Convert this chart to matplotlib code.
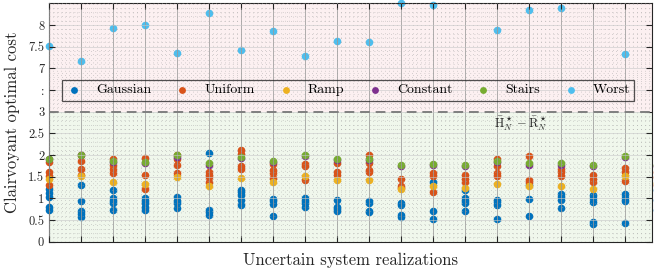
import numpy as np
import matplotlib.pyplot as plt
from matplotlib.ticker import FixedLocator, FixedFormatter, NullFormatter

plt.rcParams['font.family'] = 'cmr10'
plt.rcParams['mathtext.fontset'] = 'cm'
plt.rcParams['axes.unicode_minus'] = False

# clairvoyant cost per realization, several draws per distribution
gaussian = [
    [1.22, 1.12, 1.04, 0.81, 0.74],
    [1.32, 0.95, 0.72, 0.64, 0.57],
    [1.20, 1.01, 0.93, 0.89, 0.74],
    [1.01, 0.93, 0.89, 0.81, 0.74],
    [1.03, 0.95, 0.90, 0.77],
    [2.05, 0.74, 0.68, 0.62],
    [1.20, 1.14, 1.08, 0.97, 0.85],
    [0.99, 0.95, 0.87, 0.60],
    [1.01, 0.95, 0.89, 0.81],
    [0.97, 0.81, 0.75, 0.70],
    [0.93, 0.89, 0.72, 0.68],
    [0.89, 0.84, 0.62, 0.58],
    [1.37, 0.72, 0.53],
    [1.20, 1.01, 0.95, 0.90, 0.70],
    [0.97, 0.92, 0.85, 0.53],
    [1.30, 0.98, 0.60],
    [1.11, 1.04, 0.97, 0.79],
    [1.08, 1.00, 0.92, 0.46, 0.42],
    [1.10, 1.00, 0.93, 0.44],
    [1.20, 0.97, 0.74],
]
uniform = [
    [1.83, 1.60, 1.52, 1.31],
    [2.01, 1.86, 1.68, 1.55],
    [1.91, 1.78, 1.68, 1.59],
    [1.93, 1.55, 1.22],
    [2.01, 1.90, 1.78, 1.59],
    [1.62, 1.55, 1.49, 1.39],
    [2.11, 2.03, 1.74, 1.67],
    [1.80, 1.66, 1.59, 1.47],
    [1.80, 1.74, 1.43],
    [1.82, 1.62, 1.55],
    [2.01, 1.82, 1.66, 1.60],
    [1.45, 1.28, 1.24],
    [1.59, 1.52, 1.14],
    [1.55, 1.45, 1.39],
    [1.91, 1.74, 1.59, 1.52],
    [1.97, 1.42, 1.39],
    [1.68, 1.60, 1.51],
    [1.55, 1.45, 1.38],
    [1.70, 1.62, 1.40],
    [1.62, 1.49, 1.31],
]
ramp = [1.45, 1.52, 1.37, 1.34, 1.49, 1.29, 1.47, 1.37, 1.52, 1.42,
        1.43, 1.22, 1.28, 1.24, 1.34, 1.29, 1.28, 1.22, 1.51, 1.35]
constant = [1.90, 1.99, 1.83, 1.81, 1.96, 1.78, 1.94, 1.85, 1.97, 1.89,
            1.89, 1.75, 1.78, 1.75, 1.84, 1.78, 1.78, 1.74, 1.95, 1.74]
stairs = [1.92, 2.01, 1.86, 1.83, 1.99, 1.82, 1.96, 1.87, 1.99, 1.91,
          1.91, 1.78, 1.80, 1.78, 1.86, 1.82, 1.82, 1.78, 1.97, 1.76]
worst = [7.52, 7.18, 7.93, 8.00, 7.35, 8.27, 7.42, 7.85, 7.28, 7.64,
         7.60, 8.50, 8.45, 8.80, 7.88, 8.35, 8.40, 8.90, 7.33]

names = ['Gaussian', 'Uniform', 'Ramp', 'Constant', 'Stairs', 'Worst']
colors = ['#0072BD', '#D95319', '#EDB120', '#7E2F8E', '#77AC30', '#4DBEEE']

ytick_vals = [0, 0.5, 1, 1.5, 2, 2.5, 3, 5, 7, 7.5, 8]
ytick_labels = ['0', '0.5', '1', '1.5', '2', '2.5', '3', ':', '7', '7.5', '8']


# broken axis: 3..7 squeezed into half a unit
def fwd(y):
    y = np.asarray(y, float)
    return np.where(y <= 3, y, np.where(y < 7, 3 + (y - 3) * 0.25, y - 3))


def inv(z):
    z = np.asarray(z, float)
    return np.where(z <= 3, z, np.where(z < 4, 3 + (z - 3) * 4, z + 3))


fig, ax = plt.subplots(figsize=(6.54, 2.72), dpi=100)
fig.subplots_adjust(left=0.075, right=0.997, bottom=0.111, top=0.988)
ax.set_yscale('function', functions=(fwd, inv))

ax.axhspan(3, 8.5, color='#fcf0f1', zorder=0, lw=0)
ax.axhspan(0, 3, color='#f0f7ec', zorder=0, lw=0)


def flat(groups):
    xs, ys = [], []
    for i, g in enumerate(groups):
        g = g if isinstance(g, list) else [g]
        xs += [i] * len(g)
        ys += g
    return xs, ys


series = [gaussian, uniform, ramp, constant, stairs, worst]
handles = []
for data, name, c in zip(series, names, colors):
    xs, ys = flat(data)
    h = ax.scatter(xs, ys, s=30, color=c, lw=0, label=name, zorder=2,
                   clip_on=False)
    handles.append(h)

ax.axhline(3, color='#7f7f7f', lw=1.4, dashes=(5, 3), zorder=3)
ax.text(14.75, 2.71, r'$\bar{\mathrm{H}}_N^\star - \bar{\mathrm{R}}_N^\star$',
        ha='center', va='center', fontsize=9, color='#262626')

ax.set_xlim(0, 18.84)
ax.set_ylim(0, 8.5)

ax.xaxis.set_major_locator(FixedLocator(np.arange(0, 19)))
ax.xaxis.set_major_formatter(NullFormatter())
ax.xaxis.set_minor_locator(FixedLocator(np.arange(0, 19, 0.125)))
ax.yaxis.set_major_locator(FixedLocator(ytick_vals))
ax.yaxis.set_major_formatter(FixedFormatter(ytick_labels))
ax.yaxis.set_minor_locator(FixedLocator(inv(np.arange(0, 5.51, 0.1))))
ax.yaxis.set_minor_formatter(NullFormatter())

ax.set_axisbelow(False)
ax.grid(which='major', axis='x', color='#9a9a9a', lw=0.7, alpha=0.8)
ax.grid(which='major', axis='y', color='#c8c8c8', lw=0.7, alpha=0.6)
ax.grid(which='minor', color='#a0a0a0', lw=0.6, ls=(0, (1, 4)), alpha=0.6)

ax.tick_params(which='major', direction='in', length=4, width=0.8,
               top=True, right=True, color='#262626', labelsize=9,
               labelcolor='#262626')
ax.tick_params(which='minor', length=0)
for sp in ax.spines.values():
    sp.set_color('#262626')
    sp.set_linewidth(0.8)

ax.set_ylabel('Clairvoyant optimal cost', fontsize=12, color='#262626',
              labelpad=6)
ax.set_xlabel('Uncertain system realizations', fontsize=12, color='#262626',
              labelpad=4)

leg = ax.legend(handles=handles, ncol=6, loc='center',
                bbox_to_anchor=(0.496, 0.636),
                fancybox=False, edgecolor='#262626', facecolor='none',
                fontsize=10, handlelength=1.2, handletextpad=1.0,
                columnspacing=1.6, borderpad=0.3, borderaxespad=0,
                scatterpoints=1, markerscale=0.9)
leg.get_frame().set_linewidth(0.9)
leg.set_zorder(5)

fig.savefig('out.png', dpi=100)
